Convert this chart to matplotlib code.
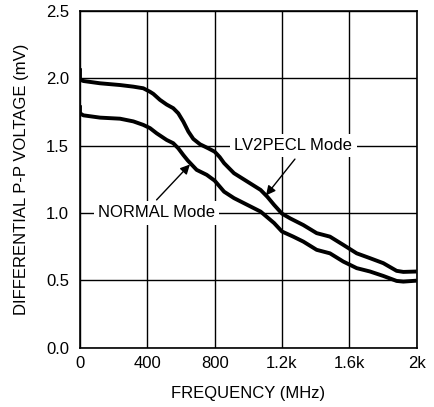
import matplotlib
matplotlib.use("Agg")
import matplotlib.pyplot as plt

plt.rcParams['font.family'] = ['Liberation Sans', 'DejaVu Sans']

# LV2PECL mode (upper curve)
lv_freq = [0, 0, 20, 119, 238, 317, 376, 416, 436, 475, 515, 554, 584, 614, 644, 673,
           713, 762, 800, 830, 856, 915, 994, 1073, 1113, 1153, 1200, 1248, 1327, 1406,
           1485, 1564, 1644, 1723, 1802, 1881, 1921, 2000]
lv_volt = [2.075, 1.99, 1.98, 1.963, 1.95, 1.938, 1.926, 1.90, 1.884, 1.84, 1.805,
           1.778, 1.74, 1.678, 1.604, 1.55, 1.51, 1.48, 1.455, 1.415, 1.37, 1.295, 1.233,
           1.171, 1.12, 1.06, 0.995, 0.96, 0.91, 0.85, 0.824, 0.763, 0.70, 0.664,
           0.627, 0.57, 0.562, 0.565]

# NORMAL mode (lower curve)
nm_freq = [0, 0, 20, 119, 238, 317, 376, 416, 455, 515, 554, 584, 614, 640, 693, 753,
           800, 856, 915, 994, 1073, 1153, 1200, 1267, 1327, 1406, 1485, 1564, 1644,
           1723, 1802, 1881, 1921, 2000]
nm_volt = [1.80, 1.74, 1.725, 1.708, 1.70, 1.68, 1.654, 1.63, 1.592, 1.542, 1.518,
           1.48, 1.43, 1.39, 1.32, 1.283, 1.24, 1.158, 1.11, 1.06, 1.01, 0.925, 0.862,
           0.824, 0.787, 0.726, 0.70, 0.639, 0.59, 0.565, 0.532, 0.495, 0.49, 0.497]

x_ticks = [0, 400, 800, 1200, 1600, 2000]
x_labels = ['0', '400', '800', '1.2k', '1.6k', '2k']
y_ticks = [0.0, 0.5, 1.0, 1.5, 2.0, 2.5]
y_labels = ['0.0', '0.5', '1.0', '1.5', '2.0', '2.5']

fig = plt.figure(figsize=(4.34, 4.07), dpi=100)
ax = fig.add_axes([0.1843, 0.146, 0.7757, 0.827])

ax.plot(lv_freq, lv_volt, color='black', lw=2.8, solid_joinstyle='round', solid_capstyle='butt', zorder=3)
ax.plot(nm_freq, nm_volt, color='black', lw=2.8, solid_joinstyle='round', solid_capstyle='butt', zorder=3)

ax.set_xlim(0, 2000)
ax.set_ylim(0, 2.5)
ax.set_xticks(x_ticks)
ax.set_xticklabels(x_labels)
ax.set_yticks(y_ticks)
ax.set_yticklabels(y_labels)
ax.grid(True, color='black', lw=1.0, zorder=1)
ax.set_axisbelow(True)
ax.tick_params(length=0, labelsize=12, colors='black')
ax.tick_params(axis='y', pad=8)
ax.tick_params(axis='x', pad=6)
for s in ax.spines.values():
    s.set_linewidth(1.2)
    s.set_color('black')

ax.set_xlabel('FREQUENCY (MHz)', fontsize=12, labelpad=11)
ax.set_ylabel('DIFFERENTIAL P-P VOLTAGE (mV)', fontsize=12, labelpad=12)

bb = dict(boxstyle='square,pad=0.25', fc='white', ec='none')
ax.text(1268, 1.5, 'LV2PECL Mode', fontsize=12, ha='center', va='center', bbox=bb, zorder=2)
ax.text(455, 1.0, 'NORMAL Mode', fontsize=12, ha='center', va='center', bbox=bb, zorder=2)

ap = dict(arrowstyle='-|>', color='black', lw=1.0, mutation_scale=14, shrinkA=0, shrinkB=0)
ax.annotate('', xy=(1105, 1.13), xytext=(1277, 1.40), arrowprops=ap, zorder=4)
ax.annotate('', xy=(653, 1.36), xytext=(455, 1.097), arrowprops=ap, zorder=4)

fig.savefig('out.png', dpi=100)
